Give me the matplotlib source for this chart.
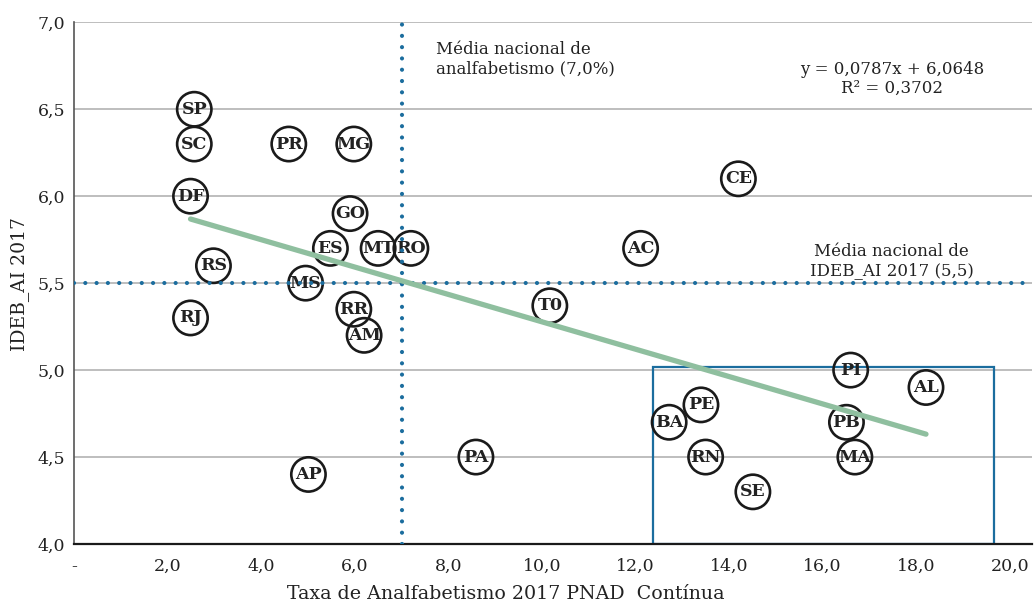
import matplotlib.pyplot as plt
from matplotlib.patches import Rectangle

plt.rcParams['font.family'] = ['DejaVu Serif']

# Unidades da federação: taxa de analfabetismo (%) e IDEB anos iniciais
siglas = ["SP", "SC", "DF", "PR", "MG", "GO", "ES", "MT", "RO", "RS", "MS", "RJ",
          "RR", "AM", "AP", "PA", "T0", "AC", "CE", "PI", "AL", "PE", "BA", "PB",
          "RN", "MA", "SE"]
taxa = [2.57, 2.57, 2.49, 4.59, 5.98, 5.90, 5.48, 6.50, 7.20, 2.98, 4.95, 2.49,
        5.98, 6.20, 5.01, 8.59, 10.17, 12.11, 14.20, 16.60, 18.21, 13.40, 12.72, 16.51,
        13.50, 16.69, 14.51]
ideb = [6.5, 6.3, 6.0, 6.3, 6.3, 5.9, 5.7, 5.7, 5.7, 5.6, 5.5, 5.3,
        5.35, 5.2, 4.4, 4.5, 5.37, 5.7, 6.1, 5.0, 4.9, 4.8, 4.7, 4.7,
        4.5, 4.5, 4.3]

# médias nacionais e reta de tendência
media_analf = 7.0
media_ideb = 5.5
coef_a = -0.0787
coef_b = 6.0648
r2 = 0.3702

# destaque: grupo com alta taxa e IDEB baixo
caixa_x = (12.37, 19.67)
caixa_y = (4.0, 5.02)

azul = "#1b6d9e"
verde = "#8fbf9f"
texto = "#222222"

fig = plt.figure(figsize=(10.34, 6.06), dpi=100)
ax = fig.add_axes([0.0716, 0.1023, 0.9262, 0.8609])

ax.set_xlim(0, 20.47)
ax.set_ylim(4.0, 7.0)

xt = [0, 2, 4, 6, 8, 10, 12, 14, 16, 18, 20]
ax.set_xticks(xt)
ax.set_xticklabels(["-" if v == 0 else f"{v:.1f}".replace(".", ",") for v in xt])
yt = [4.0, 4.5, 5.0, 5.5, 6.0, 6.5, 7.0]
ax.set_yticks(yt)
ax.set_yticklabels([f"{v:.1f}".replace(".", ",") for v in yt])
ax.tick_params(axis="x", length=0, pad=10, labelsize=12.5, colors=texto)
ax.tick_params(axis="y", length=0, pad=6.5, labelsize=12.5, colors=texto)

ax.grid(axis="y", color="#b3b3b3", linewidth=1.2, zorder=0)
ax.set_axisbelow(True)
for s in ["top", "right"]:
    ax.spines[s].set_visible(False)
ax.spines["left"].set_color("#555555")
ax.spines["left"].set_linewidth(1.2)
ax.spines["bottom"].set_color("#1a1a1a")
ax.spines["bottom"].set_linewidth(1.6)

# retângulo de destaque
ax.add_patch(Rectangle((caixa_x[0], caixa_y[0]), caixa_x[1] - caixa_x[0],
                       caixa_y[1] - caixa_y[0], fill=False, edgecolor=azul,
                       linewidth=1.6, zorder=2))

# círculos com as siglas
ax.scatter(taxa, ideb, s=610, facecolors="none", edgecolors="#1a1a1a",
           linewidths=1.9, zorder=3)
for sg, x, y in zip(siglas, taxa, ideb):
    ax.text(x, y, sg, ha="center", va="center", fontsize=12.5,
            fontweight="bold", color="#222222", zorder=4)

# linhas das médias nacionais
pontilhado = dict(color=azul, linewidth=3.0, linestyle=(0, (0.01, 2.7)),
                  dash_capstyle="round", zorder=5)
ax.axvline(media_analf, **pontilhado)
ax.axhline(media_ideb, **pontilhado)

# tendência linear
xmin, xmax = min(taxa), max(taxa)
ax.plot([xmin, xmax], [coef_a * xmin + coef_b, coef_a * xmax + coef_b],
        color=verde, linewidth=3.8, solid_capstyle="round", zorder=6)

ax.text(7.74, 6.895, "Média nacional de\nanalfabetismo (7,0%)", ha="left",
        va="top", fontsize=12, color=texto)
ax.text(17.48, 6.674,
        f"y = {abs(coef_a):.4f}x + {coef_b:.4f}".replace(".", ",")
        + "\n" + f"R² = {r2:.4f}".replace(".", ","),
        ha="center", va="center", multialignment="center", fontsize=12,
        color=texto)
ax.text(17.48, 5.627, "Média nacional de\nIDEB_AI 2017 (5,5)", ha="center",
        va="center", multialignment="center", fontsize=12, color=texto)

fig.text(506 / 1034, 1 - 594 / 606, "Taxa de Analfabetismo 2017 PNAD  Contínua",
         ha="center", va="center", fontsize=13.7, color=texto)
fig.text(20 / 1034, 1 - 284 / 606, "IDEB_AI 2017", ha="center", va="center",
         rotation=90, fontsize=13.5, color=texto)

fig.savefig("out.png", dpi=100)
